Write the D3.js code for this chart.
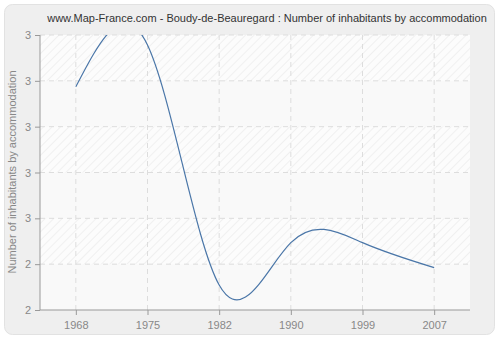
<html>
<head>
<meta charset="utf-8">
<script src="https://d3js.org/d3.v7.min.js"></script>
<style>
  body { margin: 0; background: #ffffff; }
  text { font-family: "Liberation Sans", Arial, sans-serif; }
</style>
</head>
<body>
<svg width="500" height="340"></svg>
<script>
// values
var years = ["1968", "1975", "1982", "1990", "1999", "2007"];
var inhabitants = [3.174, 3.356, 2.309, 2.494, 2.494, 2.385];
var yTicks = [2.2, 2.4, 2.6, 2.8, 3.0, 3.2, 3.4];
var yTickLabels = ["2", "2", "3", "3", "3", "3", "3"];

var svg = d3.select("svg");
var pLeft = 40, pRight = 470, pTop = 35, pBottom = 310;

svg.append("rect").attr("x", 4.5).attr("y", 4.5).attr("width", 490).attr("height", 330)
  .attr("rx", 8).attr("fill", "#efefef").attr("stroke", "#e2e2e2");

var defs = svg.append("defs");
var pat = defs.append("pattern").attr("id", "hatch").attr("patternUnits", "userSpaceOnUse")
  .attr("width", 6).attr("height", 6).attr("patternTransform", "rotate(45)");
pat.append("rect").attr("width", 6).attr("height", 6).attr("fill", "#fcfcfc");
pat.append("line").attr("x1", 0).attr("y1", 0).attr("x2", 0).attr("y2", 6)
  .attr("stroke", "#ececec").attr("stroke-width", 1.5);
defs.append("clipPath").attr("id", "plotclip").append("rect")
  .attr("x", pLeft).attr("y", pTop).attr("width", pRight - pLeft).attr("height", pBottom - pTop);

var x = d3.scalePoint().domain(years).range([pLeft, pRight]).padding(0.5);
var y = d3.scaleLinear().domain([2.2, 3.4]).range([pBottom, pTop]);

// background bands
svg.append("rect").attr("x", pLeft).attr("y", pTop).attr("width", pRight - pLeft).attr("height", pBottom - pTop)
  .attr("fill", "#f9f9f9");
svg.selectAll("rect.band").data(d3.range(0, yTicks.length - 1)).enter().append("rect")
  .attr("class", "band")
  .attr("x", pLeft).attr("width", pRight - pLeft)
  .attr("y", function(i) { return y(yTicks[i + 1]); })
  .attr("height", function(i) { return y(yTicks[i]) - y(yTicks[i + 1]); })
  .attr("fill", function(i) { return i % 2 == 1 ? "url(#hatch)" : "none"; });

// grid
svg.selectAll("line.hg").data(yTicks.slice(1)).enter().append("line")
  .attr("x1", pLeft).attr("x2", pRight)
  .attr("y1", function(d) { return y(d); }).attr("y2", function(d) { return y(d); })
  .attr("stroke", "#dddddd").attr("stroke-dasharray", "5,4");
svg.selectAll("line.vg").data(years).enter().append("line")
  .attr("x1", function(d) { return x(d); }).attr("x2", function(d) { return x(d); })
  .attr("y1", pTop).attr("y2", pBottom)
  .attr("stroke", "#dddddd").attr("stroke-dasharray", "5,4");

// line
var line = d3.line()
  .x(function(d, i) { return x(years[i]); })
  .y(function(d) { return y(d); })
  .curve(d3.curveNatural);
svg.append("path").datum(inhabitants)
  .attr("clip-path", "url(#plotclip)")
  .attr("fill", "none").attr("stroke", "#4a76a8").attr("stroke-width", 1.2)
  .attr("d", line);

// axes
var yAxis = svg.append("g").attr("transform", "translate(" + pLeft + ",0)")
  .call(d3.axisLeft(y).tickValues(yTicks).tickSize(5).tickPadding(4)
    .tickFormat(function(d, i) { return yTickLabels[i]; }));
var xAxis = svg.append("g").attr("transform", "translate(0," + pBottom + ")")
  .call(d3.axisBottom(x).tickSize(5).tickPadding(6));
svg.selectAll(".domain").attr("stroke", "#999999");
svg.selectAll(".tick line").attr("stroke", "#999999");
svg.selectAll(".tick text").attr("fill", "#888888").attr("font-size", 11)
  .style("font-family", "'Liberation Sans', Arial, sans-serif");
xAxis.select(".domain").attr("d", "M" + pLeft + ",0H" + pRight);
yAxis.select(".domain").attr("d", "M0," + pBottom + "V" + pTop);

svg.append("text").attr("x", 267).attr("y", 22).attr("text-anchor", "middle")
  .attr("font-size", 11).attr("fill", "#333333")
  .text("www.Map-France.com - Boudy-de-Beauregard : Number of inhabitants by accommodation");

svg.append("text").attr("transform", "translate(16,172) rotate(-90)")
  .attr("text-anchor", "middle").attr("font-size", 11).attr("fill", "#888888")
  .text("Number of inhabitants by accommodation");
</script>
</body>
</html>
